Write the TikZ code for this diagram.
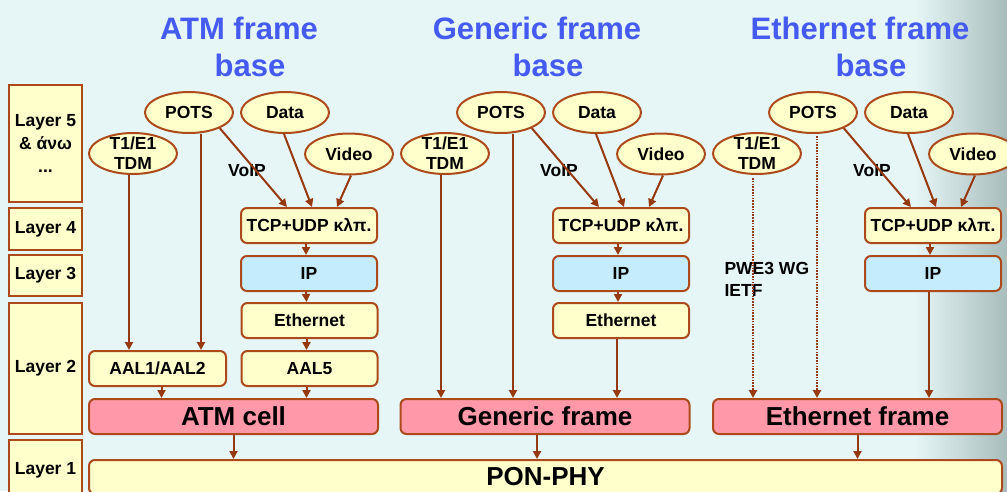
\documentclass[tikz,border=0pt]{standalone}
\usepackage{fontspec}
\setmainfont{Liberation Sans}
\usetikzlibrary{arrows.meta,shapes.geometric,calc}

\definecolor{bgcol}{RGB}{230,246,246}
\definecolor{edgegray}{RGB}{168,188,188}
\definecolor{boxyellow}{RGB}{255,255,204}
\definecolor{boxline}{RGB}{172,74,28}
\definecolor{linkcol}{RGB}{150,56,16}
\definecolor{ipblue}{RGB}{196,236,252}
\definecolor{cellpink}{RGB}{255,153,170}
\definecolor{titleblue}{RGB}{68,90,240}

\tikzset{
  svctext/.style={font=\fontsize{17.5}{20}\selectfont\bfseries},
  layerbox/.style={draw=boxline, fill=boxyellow, line width=2pt, inner sep=0pt,
    minimum width=73pt, font=\fontsize{17.5}{23}\selectfont\bfseries, align=center},
  svc/.style={ellipse, draw=boxline, fill=boxyellow, line width=2pt,
    minimum width=88pt, minimum height=41pt, inner sep=0pt},
  proto/.style={draw=boxline, fill=boxyellow, line width=2pt, rounded corners=6pt,
    minimum width=136pt, minimum height=35pt, inner sep=0pt, svctext},
  ipbox/.style={proto, fill=ipblue},
  linkframe/.style={proto, fill=cellpink, minimum width=289pt,
    font=\fontsize{26}{30}\selectfont\bfseries},
  headline/.style={font=\fontsize{31}{37}\selectfont\bfseries, text=titleblue, align=center},
  conn/.style={draw=linkcol, line width=2pt, -{Triangle[length=8pt,width=8pt]}},
  dotconn/.style={conn, dash pattern=on 1.6pt off 1.2pt},
}

\begin{document}
\begin{tikzpicture}[x=1pt, y=-1pt]
\useasboundingbox (0,0) rectangle (1007,491);
\fill[bgcol] (0,0) rectangle (1007,491);
\shade[left color=bgcol, right color=edgegray] (915,0) rectangle (1007,491);

% column headings
\node[headline] (tatm) at (239,47) {ATM frame\\\hspace*{22pt}base};
\node[headline] (tgen) at (537,47) {Generic frame\\\hspace*{22pt}base};
\node[headline] (teth) at (860,47) {Ethernet frame\\\hspace*{22pt}base};

% layer column
\node[layerbox, minimum height=117pt] (l5) at (45.5,143.5) {Layer 5\\\& άνω\\...};
\node[layerbox, minimum height=42pt] (l4) at (45.5,229) {Layer 4};
\node[layerbox, minimum height=41pt] (l3) at (45.5,275.5) {Layer 3};
\node[layerbox, minimum height=131pt] (l2) at (45.5,368.5) {Layer 2};
\node[layerbox, minimum height=60pt] (l1) at (45.5,470) {Layer 1};

% physical layer
\node[proto, minimum width=913pt, minimum height=34pt,
      font=\fontsize{26}{30}\selectfont\bfseries] (pon) at (545.5,477) {\raisebox{-1.5pt}{PON-PHY}};

% ---------- ATM column ----------
\node[svc, label={[svctext]center:POTS}] (apots) at (189,112.5) {};
\node[svc, label={[svctext]center:Data}] (adata) at (285,112.5) {};
\node[svc, label={[svctext]center:Video}] (avideo) at (349,154) {};
\node[svc, label={[svctext, align=center]center:T1/E1\\TDM}] (atdm) at (133,153.5) {};
\node[svctext] (avoip) at (247,171) {VoIP};
\node[proto] (atcp) at (309,225.5) {TCP+UDP κλπ.};
\node[ipbox] (aip) at (309,273.5) {IP};
\node[proto] (aeth) at (309.5,320.5) {Ethernet};
\node[proto] (aaal5) at (309.5,368.5) {AAL5};
\node[proto, minimum width=137pt] (aaal) at (157.5,368.5) {AAL1/AAL2};
\node[linkframe] (acell) at (233.5,416.5) {ATM cell};

\draw[conn] ([xshift=-4pt]atdm.south) -- ([xshift=-4pt]atdm.south |- aaal.north);
\draw[conn] ([xshift=12pt]apots.south) -- ([xshift=12pt]apots.south |- aaal.north);
\draw[conn] (apots.-27) -- ([xshift=47pt]atcp.north west);
\draw[conn] ([xshift=-1pt]adata.south) -- ([xshift=72pt]atcp.north west);
\draw[conn] ([xshift=2pt]avideo.south) -- ([xshift=97pt]atcp.north west);
\draw[conn] ([xshift=-3pt]atcp.south) -- ([xshift=-3pt]aip.north);
\draw[conn] ([xshift=-3pt]aip.south) -- ([xshift=-3pt]aeth.north);
\draw[conn] ([xshift=-3pt]aeth.south) -- ([xshift=-3pt]aaal5.north);
\draw[conn] ([xshift=4pt]aaal.south) -- ([xshift=4pt]aaal.south |- acell.north);
\draw[conn] ([xshift=-3pt]aaal5.south) -- ([xshift=-3pt]aaal5.south |- acell.north);
\draw[conn] (acell.south) -- (acell.south |- pon.north);

% ---------- Generic column ----------
\node[svc, label={[svctext]center:POTS}] (gpots) at (501,112.5) {};
\node[svc, label={[svctext]center:Data}] (gdata) at (597,112.5) {};
\node[svc, label={[svctext]center:Video}] (gvideo) at (661,154) {};
\node[svc, label={[svctext, align=center]center:T1/E1\\TDM}] (gtdm) at (445,153.5) {};
\node[svctext] (gvoip) at (559,171) {VoIP};
\node[proto] (gtcp) at (621,225.5) {TCP+UDP κλπ.};
\node[ipbox] (gip) at (621,273.5) {IP};
\node[proto] (geth) at (621,320.5) {Ethernet};
\node[linkframe] (gframe) at (545,416.5) {Generic frame};

\draw[conn] ([xshift=-4pt]gtdm.south) -- ([xshift=-4pt]gtdm.south |- gframe.north);
\draw[conn] ([xshift=12pt]gpots.south) -- ([xshift=12pt]gpots.south |- gframe.north);
\draw[conn] (gpots.-27) -- ([xshift=47pt]gtcp.north west);
\draw[conn] ([xshift=-1pt]gdata.south) -- ([xshift=72pt]gtcp.north west);
\draw[conn] ([xshift=2pt]gvideo.south) -- ([xshift=97pt]gtcp.north west);
\draw[conn] ([xshift=-3pt]gtcp.south) -- ([xshift=-3pt]gip.north);
\draw[conn] ([xshift=-3pt]gip.south) -- ([xshift=-3pt]geth.north);
\draw[conn] ([xshift=-4pt]geth.south) -- ([xshift=-4pt]geth.south |- gframe.north);
\draw[conn] ([xshift=-8pt]gframe.south) -- ([xshift=-8pt]gframe.south |- pon.north);

% ---------- Ethernet column ----------
\node[svc, label={[svctext]center:POTS}] (epots) at (813,112.5) {};
\node[svc, label={[svctext]center:Data}] (edata) at (909,112.5) {};
\node[svc, label={[svctext]center:Video}] (evideo) at (973,154) {};
\node[svc, label={[svctext, align=center]center:T1/E1\\TDM}] (etdm) at (757,153.5) {};
\node[svctext] (evoip) at (872,171) {VoIP};
\node[svctext, anchor=west, align=left, font=\fontsize{17.5}{22}\selectfont\bfseries] (epwe) at (721,279) {PWE3 WG\\IETF};
\node[proto] (etcp) at (933,225.5) {TCP+UDP κλπ.};
\node[ipbox] (eip) at (933,273.5) {IP};
\node[linkframe] (eframe) at (857.5,416.5) {Ethernet frame};

\draw[dotconn] ([xshift=-4pt,yshift=-3pt]etdm.south) -- ([xshift=-4pt]etdm.south |- eframe.north);
\draw[dotconn] ([xshift=4pt,yshift=-2pt]epots.south) -- ([xshift=4pt]epots.south |- eframe.north);
\draw[conn] (epots.-27) -- ([xshift=47pt]etcp.north west);
\draw[conn] ([xshift=-1pt]edata.south) -- ([xshift=72pt]etcp.north west);
\draw[conn] ([xshift=2pt]evideo.south) -- ([xshift=97pt]etcp.north west);
\draw[conn] ([xshift=-3pt]etcp.south) -- ([xshift=-3pt]eip.north);
\draw[conn] ([xshift=-4pt]eip.south) -- ([xshift=-4pt]eip.south |- eframe.north);
\draw[conn] (eframe.south) -- (eframe.south |- pon.north);
\end{tikzpicture}
\end{document}
